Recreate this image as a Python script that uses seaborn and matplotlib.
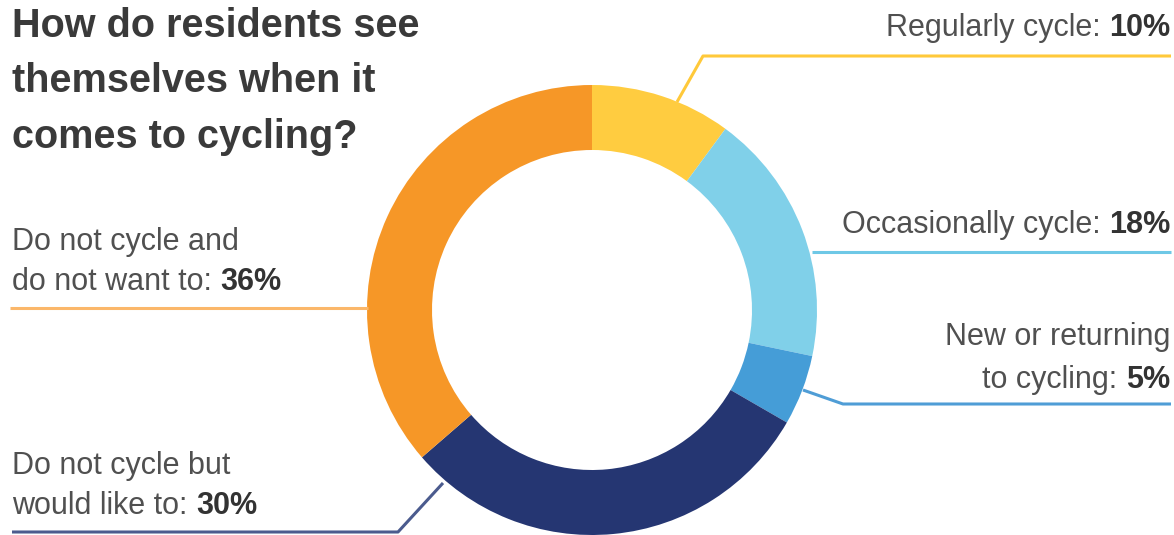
import matplotlib
matplotlib.use('Agg')
import matplotlib.pyplot as plt
import seaborn as sns

# data
categories = ['Regularly cycle', 'Occasionally cycle', 'New or returning to cycling',
              'Do not cycle but would like to', 'Do not cycle and do not want to']
shares = [10, 18, 5, 30, 36]
wedge_colors = ['#FFCC40', '#80D0E9', '#459DD7', '#253672', '#F69727']
line_colors = ['#FFC93A', '#6EC8E6', '#4F9DD6', '#4B5B8E', '#FBB76A']

# label text: (leading lines, text before the bold value)
label_text = [
    ([], 'Regularly cycle: '),
    ([], 'Occasionally cycle: '),
    (['New or returning'], 'to cycling: '),
    (['Do not cycle but'], 'would like to: '),
    (['Do not cycle and'], 'do not want to: '),
]

sns.set_theme(style='white')
plt.rcParams['font.family'] = ['Liberation Sans', 'DejaVu Sans']

W, H = 1174, 535
fig = plt.figure(figsize=(W / 100, H / 100), dpi=100)
ax = fig.add_axes([0, 0, 1, 1])


def py(y):
    # pixel row -> data y
    return H - y


# donut
ax.pie(shares, colors=wedge_colors, startangle=90, counterclock=False,
       center=(592, py(310)), radius=225,
       wedgeprops=dict(width=65, linewidth=0))

ax.set_xlim(0, W)
ax.set_ylim(0, H)
ax.set_aspect('equal')
ax.axis('off')

# label layout: leader line path (pixels), text anchor x, baselines, alignment
layout = [
    dict(path=[(677, 102), (703, 56), (1171, 56)], x=1170, ys=[36], ha='right'),
    dict(path=[(812, 252), (1171, 252)], x=1170, ys=[233], ha='right'),
    dict(path=[(803, 390), (843, 404), (1171, 404)], x=1170, ys=[345, 388], ha='right'),
    dict(path=[(443, 483), (398, 532), (12, 532)], x=12, ys=[474, 514], ha='left'),
    dict(path=[(368, 308), (10, 308)], x=12, ys=[250, 290], ha='left'),
]

fs = 22
plain_col = '#505050'
bold_col = '#333333'

for share, lc, (lead, plain), lay in zip(shares, line_colors, label_text, layout):
    xs = [p[0] for p in lay['path']]
    ys = [py(p[1]) for p in lay['path']]
    ax.plot(xs, ys, color=lc, lw=2.2, solid_capstyle='butt')

    for txt, yb in zip(lead, lay['ys'][:-1]):
        ax.text(lay['x'], py(yb), txt, ha=lay['ha'], va='baseline',
                fontsize=fs, color=plain_col)

    yb = py(lay['ys'][-1])
    value = f'{share}%'
    if lay['ha'] == 'right':
        tb = ax.text(lay['x'], yb, value, ha='right', va='baseline',
                     fontsize=fs, weight='bold', color=bold_col)
        ax.annotate(plain, xy=(0, 0), xycoords=tb, ha='right', va='bottom',
                    fontsize=fs, color=plain_col)
    else:
        tp = ax.text(lay['x'], yb, plain, ha='left', va='baseline',
                     fontsize=fs, color=plain_col)
        ax.annotate(value, xy=(1, 0), xycoords=tp, ha='left', va='bottom',
                    fontsize=fs, weight='bold', color=bold_col)

# title
title_lines = ['How do residents see', 'themselves when it', 'comes to cycling?']
for line, yb in zip(title_lines, [37, 92, 148]):
    ax.text(12, py(yb), line, ha='left', va='baseline', fontsize=28.5,
            weight='bold', color='#3a3a3a')

fig.savefig('out.png', dpi=100)
